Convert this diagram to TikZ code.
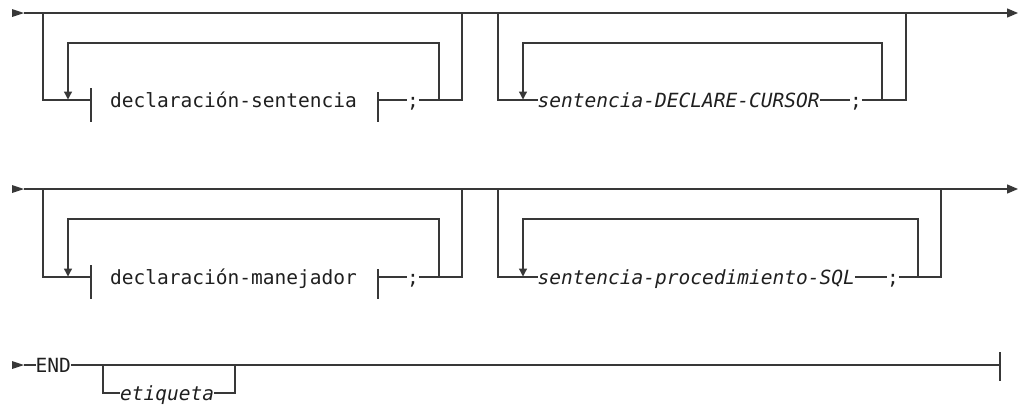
\documentclass[tikz,border=0pt]{standalone}
\usepackage{fontspec}
\setmonofont{DejaVu Sans Mono}
\usetikzlibrary{arrows.meta}
\definecolor{linec}{gray}{0.22}
\definecolor{txtc}{gray}{0.12}
\tikzset{
  rr/.style={draw=linec, line width=1.3bp, line cap=butt, line join=miter},
  lbl/.style={font=\ttfamily\fontsize{19.6}{22}\selectfont, inner sep=0pt, outer sep=0pt, anchor=base west, text=txtc},
  ilbl/.style={lbl, font=\ttfamily\itshape\fontsize{19.6}{22}\selectfont},
  semi/.style={lbl, anchor=base},
  endtip/.style={-{Triangle[length=11bp,width=9bp]}},
  downtip/.style={-{Triangle[length=8bp,width=8bp]}},
  starttri/.style={fill=linec},
}
\begin{document}
\begin{tikzpicture}[x=1bp,y=-1bp]
\useasboundingbox (0,0) rectangle (1019,407);

% ================= ROW 1 =================
\fill[starttri] (12,9) -- (24,13) -- (12,17) -- cycle;
\coordinate (r1s) at (24,13);
\coordinate (r1e) at (1018,13);
\draw[rr,endtip] (r1s) -- (r1e);
% group 1
\coordinate (a1) at (43,13);
\coordinate (a1b) at (43,100);
\coordinate (bl1) at (91,100);
\coordinate (br1) at (378,100);
\coordinate (i1) at (439,100);
\coordinate (i1t) at (439,43);
\coordinate (i1l) at (68,43);
\coordinate (i1d) at (68,99.5);
\coordinate (o1) at (462,100);
\coordinate (o1t) at (462,13);
\node[lbl] (t1) at (110,107.5) {declaración-sentencia};
\node[semi] (s1) at (413,107.5) {;};
\draw[rr] (a1) -- (a1b) -- (bl1);
\draw[rr] (91,88) -- (91,122);
\draw[rr] (378,92) -- (378,122);
\draw[rr] (br1) -- (s1.west |- br1);
\draw[rr] (s1.east |- br1) -- (i1) -- (o1) -- (o1t);
\draw[rr,downtip] (i1) -- (i1t) -- (i1l) -- (i1d);
% group 2
\coordinate (a2) at (498,13);
\coordinate (a2b) at (498,100);
\node[ilbl] (t2) at (537.5,107.5) {sentencia-DECLARE-CURSOR};
\node[semi] (s2) at (856,107.5) {;};
\coordinate (i2) at (882,100);
\coordinate (i2t) at (882,43);
\coordinate (i2l) at (523,43);
\coordinate (i2d) at (523,99.5);
\coordinate (o2) at (906,100);
\coordinate (o2t) at (906,13);
\draw[rr] (a2) -- (a2b) -- (t2.west |- a2b);
\draw[rr] (t2.east |- a2b) -- (s2.west |- a2b);
\draw[rr] (s2.east |- a2b) -- (i2) -- (o2) -- (o2t);
\draw[rr,downtip] (i2) -- (i2t) -- (i2l) -- (i2d);

% ================= ROW 2 =================
\fill[starttri] (12,185) -- (24,189) -- (12,193) -- cycle;
\coordinate (r2s) at (24,189);
\coordinate (r2e) at (1018,189);
\draw[rr,endtip] (r2s) -- (r2e);
% group 3
\coordinate (a3) at (43,189);
\coordinate (a3b) at (43,277);
\coordinate (bl3) at (91,277);
\coordinate (br3) at (378,277);
\coordinate (i3) at (439,277);
\coordinate (i3t) at (439,219);
\coordinate (i3l) at (68,219);
\coordinate (i3d) at (68,276.5);
\coordinate (o3) at (462,277);
\coordinate (o3t) at (462,189);
\node[lbl] (t3) at (110,284.5) {declaración-manejador};
\node[semi] (s3) at (413,284.5) {;};
\draw[rr] (a3) -- (a3b) -- (bl3);
\draw[rr] (91,265) -- (91,299);
\draw[rr] (378,269) -- (378,299);
\draw[rr] (br3) -- (s3.west |- br3);
\draw[rr] (s3.east |- br3) -- (i3) -- (o3) -- (o3t);
\draw[rr,downtip] (i3) -- (i3t) -- (i3l) -- (i3d);
% group 4
\coordinate (a4) at (498,189);
\coordinate (a4b) at (498,277);
\node[ilbl] (t4) at (537.5,284.5) {sentencia-procedimiento-SQL};
\node[semi] (s4) at (893,284.5) {;};
\coordinate (i4) at (918,277);
\coordinate (i4t) at (918,219);
\coordinate (i4l) at (523,219);
\coordinate (i4d) at (523,276.5);
\coordinate (o4) at (941,277);
\coordinate (o4t) at (941,189);
\draw[rr] (a4) -- (a4b) -- (t4.west |- a4b);
\draw[rr] (t4.east |- a4b) -- (s4.west |- a4b);
\draw[rr] (s4.east |- a4b) -- (i4) -- (o4) -- (o4t);
\draw[rr,downtip] (i4) -- (i4t) -- (i4l) -- (i4d);

% ================= ROW 3 =================
\fill[starttri] (12,361) -- (24,365) -- (12,369) -- cycle;
\coordinate (r3s) at (24,365);
\node[lbl] (kend) at (35.5,372.5) {END};
\coordinate (r3e) at (1000,365);
\coordinate (b5) at (103,365);
\coordinate (b5b) at (103,393);
\node[ilbl] (t5) at (120,400.5) {etiqueta};
\coordinate (c5b) at (235,393);
\coordinate (c5) at (235,365);
\draw[rr] (r3s) -- (kend.west |- r3s);
\draw[rr] (kend.east |- r3s) -- (r3e);
\draw[rr] (b5) -- (b5b) -- (t5.west |- b5b);
\draw[rr] (t5.east |- b5b) -- (c5b) -- (c5);
\draw[draw=linec, line width=2.4bp] (241,365) -- (265,365);
\draw[rr] (1000,352) -- (1000,381);
\end{tikzpicture}
\end{document}
